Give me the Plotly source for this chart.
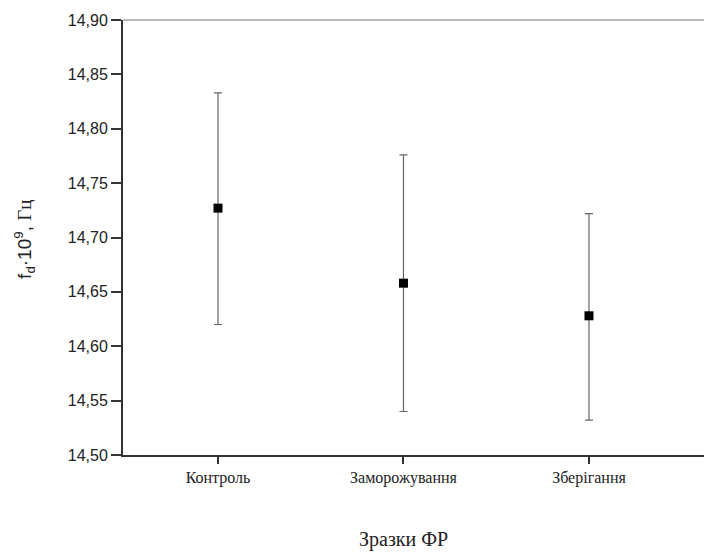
import plotly.graph_objects as go

# Sample groups and measured mean frequency with spread
samples = ["Контроль", "Заморожування", "Зберігання"]
mean_fd = [14.727, 14.658, 14.628]
err_plus = [0.106, 0.118, 0.094]
err_minus = [0.107, 0.118, 0.096]
y_ticks = [14.50, 14.55, 14.60, 14.65, 14.70, 14.75, 14.80, 14.85, 14.90]

x_pos = [1, 2, 3]

fig = go.Figure()
fig.add_trace(go.Scatter(
    x=x_pos,
    y=mean_fd,
    mode="markers",
    marker=dict(symbol="square", size=9, color="black"),
    error_y=dict(
        type="data",
        symmetric=False,
        array=err_plus,
        arrayminus=err_minus,
        color="#666666",
        thickness=1.2,
        width=4,
    ),
    showlegend=False,
))

fig.update_layout(
    width=704,
    height=554,
    margin=dict(l=123, r=0, t=20, b=99),
    plot_bgcolor="white",
    paper_bgcolor="white",
    separators=", ",
    xaxis=dict(
        range=[0.488, 3.62],
        tickmode="array",
        tickvals=x_pos,
        ticktext=samples,
        ticks="outside",
        ticklen=7,
        tickwidth=1.5,
        tickcolor="#333333",
        showline=True,
        linecolor="#333333",
        linewidth=2,
        showgrid=False,
        zeroline=False,
        tickfont=dict(family="Liberation Serif", size=16, color="#222222"),
    ),
    yaxis=dict(
        range=[14.50, 14.90],
        tickmode="array",
        tickvals=y_ticks,
        tickformat=".2f",
        ticks="outside",
        ticklen=10,
        tickwidth=1.5,
        tickcolor="#333333",
        showline=True,
        linecolor="#333333",
        linewidth=2,
        showgrid=False,
        zeroline=False,
        tickfont=dict(family="Liberation Sans", size=16, color="#222222"),
    ),
    shapes=[dict(
        type="line", xref="paper", yref="paper",
        x0=0, x1=1, y0=1, y1=1,
        line=dict(color="#777777", width=1),
    )],
    annotations=[
        dict(
            text="f<sub>d</sub>·10<sup>9</sup>, "
                 "<span style='font-family:Liberation Serif'>Гц</span>",
            xref="paper", yref="paper",
            x=-0.17, y=0.495,
            xanchor="center", yanchor="middle",
            textangle=-90, showarrow=False,
            font=dict(family="Liberation Sans", size=19, color="#222222"),
        ),
        dict(
            text="Зразки ФР",
            xref="x", yref="paper",
            x=2, y=-0.195,
            xanchor="center", yanchor="middle",
            showarrow=False,
            font=dict(family="Liberation Serif", size=20, color="#222222"),
        ),
    ],
)

fig.write_html("out.html")
